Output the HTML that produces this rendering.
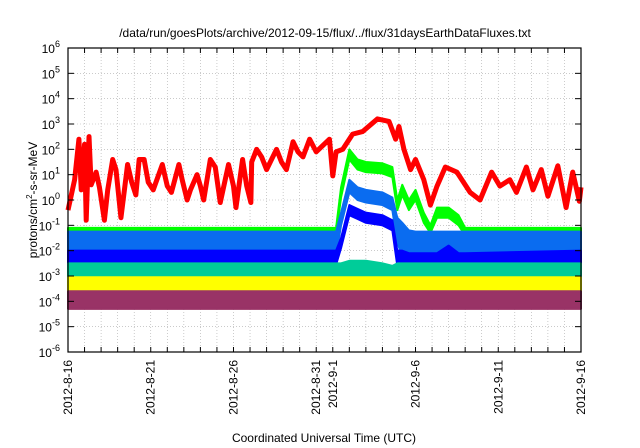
<!DOCTYPE html>
<html><head><meta charset="utf-8"><style>
body{margin:0;background:#fff}
svg{display:block;font-family:"Liberation Sans",sans-serif}
</style></head><body>
<svg id="chart" width="640" height="448" viewBox="0 0 640 448">
<text x="325" y="37" text-anchor="middle" font-size="12">/data/run/goesPlots/archive/2012-09-15/flux/../flux/31daysEarthDataFluxes.txt</text>
<g id="grid"></g>
<g id="series"></g>
<g id="axes"></g>
<text x="324" y="442" text-anchor="middle" font-size="12">Coordinated Universal Time (UTC)</text>
<text transform="translate(37,200) rotate(-90)" text-anchor="middle" font-size="12">protons/cm<tspan dy="-5" font-size="8">2</tspan><tspan dy="5">-s-sr-MeV</tspan></text>
</svg>
<script>
// data (day offset from 2012-08-16, log10 flux)
const redDays=[0,0.2,0.4,0.66,0.8,1.0,1.1,1.27,1.4,1.7,1.9,2.2,2.4,2.7,2.9,3.2,3.6,3.85,4.1,4.3,4.6,4.85,5.15,5.7,6.0,6.25,6.7,6.9,7.2,7.4,7.8,8.0,8.2,8.6,8.9,9.2,9.7,10.0,10.15,10.55,10.8,11.05,11.1,11.4,11.7,12.0,12.6,12.9,13.2,13.6,13.9,14.2,14.6,15.0,15.8,16.0,16.2,16.6,17.2,17.8,18.7,19.4,19.8,20.0,20.3,20.7,21.0,21.5,21.9,22.3,22.8,23.5,24.3,24.9,25.6,26.1,26.7,27.1,27.7,28.1,28.6,29.0,29.6,30.1,30.5,30.9,31];
const redLog=[-0.4,0.2,0.8,2.4,0.4,2.2,-0.8,2.5,0.6,1.1,0.5,-0.8,0.4,1.6,1.2,-0.7,1.4,0.7,0.2,1.6,1.6,0.7,0.4,1.4,0.55,0.3,1.4,0.8,0.0,0.4,1.0,0.55,0.0,1.6,1.3,-0.1,1.4,0.55,-0.3,1.6,0.55,-0.1,1.5,2.0,1.7,1.2,2.0,1.5,1.2,2.3,1.9,1.7,2.4,1.9,2.4,0.95,1.9,2.0,2.6,2.7,3.2,3.1,2.4,2.9,2.0,1.2,1.6,0.8,-0.2,0.55,1.3,1.1,0.3,0.0,1.1,0.55,0.8,0.3,1.3,0.4,1.2,0.15,1.35,-0.3,1.1,-0.05,0.5];
const bandDays=[0,16.2,16.5,17,17.5,18,19,19.6,19.9,20.2,20.6,21,21.5,21.9,22.3,23,23.6,24,31];
const greenHi=[-1.1,-1.1,0.5,2.0,1.6,1.5,1.45,1.3,0.0,0.6,0.0,0.4,-0.5,-1.0,-0.3,-0.3,-0.6,-1.1,-1.1];
const greenLo=[-1.4,-1.4,0.1,1.6,1.2,1.1,1.05,0.9,-0.4,0.2,-0.4,0.0,-0.9,-1.3,-0.7,-0.7,-1.0,-1.4,-1.4];
const lblueHi=[-1.25,-1.25,-0.5,0.8,0.5,0.4,0.3,0.1,-0.7,-0.9,-1.2,-1.25,-1.25,-1.25,-1.25,-1.25,-1.25,-1.25,-1.25];
const lblueLo=[-2.2,-2.2,-1.0,0.3,0.0,-0.1,-0.2,-0.4,-1.7,-2.2,-2.2,-2.2,-2.2,-2.2,-2.2,-2.2,-2.2,-2.2,-2.2];
const dblueHi=[-2.0,-2.0,-1.5,-0.2,-0.35,-0.5,-0.6,-0.8,-2.0,-2.0,-2.1,-2.1,-2.1,-2.1,-2.1,-1.8,-2.1,-2.1,-2.0];
const dblueLo=[-2.55,-2.55,-1.9,-0.6,-0.75,-0.9,-1.0,-1.2,-2.6,-2.6,-2.6,-2.6,-2.6,-2.6,-2.6,-2.5,-2.6,-2.6,-2.55];
const tealHi=[-2.5,-2.5,-2.5,-2.4,-2.4,-2.4,-2.5,-2.6,-2.5,-2.5,-2.5,-2.5,-2.5,-2.5,-2.5,-2.5,-2.5,-2.5,-2.5];
const tealLo=[-3.1,-3.1,-3.1,-3.1,-3.1,-3.1,-3.1,-3.1,-3.1,-3.1,-3.1,-3.1,-3.1,-3.1,-3.1,-3.1,-3.1,-3.1,-3.1];
const yellowHi=[-3.05,-3.05,-3.05,-3.05,-3.05,-3.05,-3.05,-3.05,-3.05,-3.05,-3.05,-3.05,-3.05,-3.05,-3.05,-3.05,-3.05,-3.05,-3.05];
const yellowLo=[-3.7,-3.7,-3.7,-3.7,-3.7,-3.7,-3.7,-3.7,-3.7,-3.7,-3.7,-3.7,-3.7,-3.7,-3.7,-3.7,-3.7,-3.7,-3.7];
const purpleHi=[-3.6,-3.6,-3.6,-3.6,-3.6,-3.6,-3.6,-3.6,-3.6,-3.6,-3.6,-3.6,-3.6,-3.6,-3.6,-3.6,-3.6,-3.6,-3.6];
const purpleLo=[-4.3,-4.3,-4.3,-4.3,-4.3,-4.3,-4.3,-4.3,-4.3,-4.3,-4.3,-4.3,-4.3,-4.3,-4.3,-4.3,-4.3,-4.3,-4.3];
const yTickExp=[-6,-5,-4,-3,-2,-1,0,1,2,3,4,5,6];
const xTickLabels=["2012-8-16","2012-8-21","2012-8-26","2012-8-31","2012-9-1","2012-9-6","2012-9-11","2012-9-16"];
const xTickDays=[0,5,10,15,16,21,26,31];

const L=68,R=581,T=48,B=352,NS="http://www.w3.org/2000/svg";
const xs=d=>L+(R-L)*d/31;
const ys=v=>B-(B-T)*(v+6)/12;
function mk(tag,attrs,parent){const e=document.createElementNS(NS,tag);for(const k in attrs)e.setAttribute(k,attrs[k]);parent.appendChild(e);return e;}
const grid=document.getElementById('grid'),ser=document.getElementById('series'),ax=document.getElementById('axes');
for(let d=1;d<31;d++){const l=mk('line',{x1:xs(d),x2:xs(d),y1:T,y2:B,stroke:'#aaa','stroke-width':0.6,'stroke-dasharray':'1,2'},grid);

}
yTickExp.forEach(e=>{if(e===-6||e===6)return;const l=mk('line',{x1:L,x2:R,y1:ys(e),y2:ys(e),stroke:'#aaa','stroke-width':0.6,'stroke-dasharray':'1,2'},grid);

});
const bands=[['green',greenHi,greenLo,'#00ff00'],['light-blue',lblueHi,lblueLo,'#0a6cf0'],['dark-blue',dblueHi,dblueLo,'#0000ff'],['teal',tealHi,tealLo,'#00cc99'],['yellow',yellowHi,yellowLo,'#ffff00'],['purple',purpleHi,purpleLo,'#993366']];
bands.forEach(([n,hi,lo,c])=>{
 let pts=bandDays.map((d,i)=>xs(d)+','+ys(hi[i]));
 for(let i=bandDays.length-1;i>=0;i--)pts.push(xs(bandDays[i])+','+ys(lo[i]));
 const p=mk('polygon',{points:pts.join(' '),fill:c,stroke:c,'stroke-width':2,'stroke-linejoin':'round'},ser);
 
 
});
const red=mk('polyline',{points:redDays.map((d,i)=>xs(d)+','+ys(redLog[i])).join(' '),fill:'none',stroke:'#ff0000','stroke-width':5,'stroke-linejoin':'round'},ser);


const frame=mk('rect',{x:L,y:T,width:R-L,height:B-T,fill:'none',stroke:'#000','stroke-width':1.2},ax);


for(let d=1;d<31;d++){mk('line',{x1:xs(d),x2:xs(d),y1:B,y2:B-5,stroke:'#000'},ax);mk('line',{x1:xs(d),x2:xs(d),y1:T,y2:T+5,stroke:'#000'},ax);}
yTickExp.forEach(e=>{
 mk('line',{x1:L,x2:L+6,y1:ys(e),y2:ys(e),stroke:'#000'},ax);mk('line',{x1:R,x2:R-6,y1:ys(e),y2:ys(e),stroke:'#000'},ax);
 const t=mk('text',{x:60,y:ys(e)+5,'text-anchor':'end','font-size':12},ax);
 
 
 t.appendChild(document.createTextNode('10'));
 const s=mk('tspan',{dy:-6,'font-size':9},t);s.textContent=String(e);
});
xTickLabels.forEach((lab,i)=>{
 const x=xs(xTickDays[i]);
 const t=mk('text',{transform:`translate(${x+4},360) rotate(-90)`,'text-anchor':'end','font-size':12},ax);
 
 
 t.textContent=lab;
});
</script>
</body></html>
